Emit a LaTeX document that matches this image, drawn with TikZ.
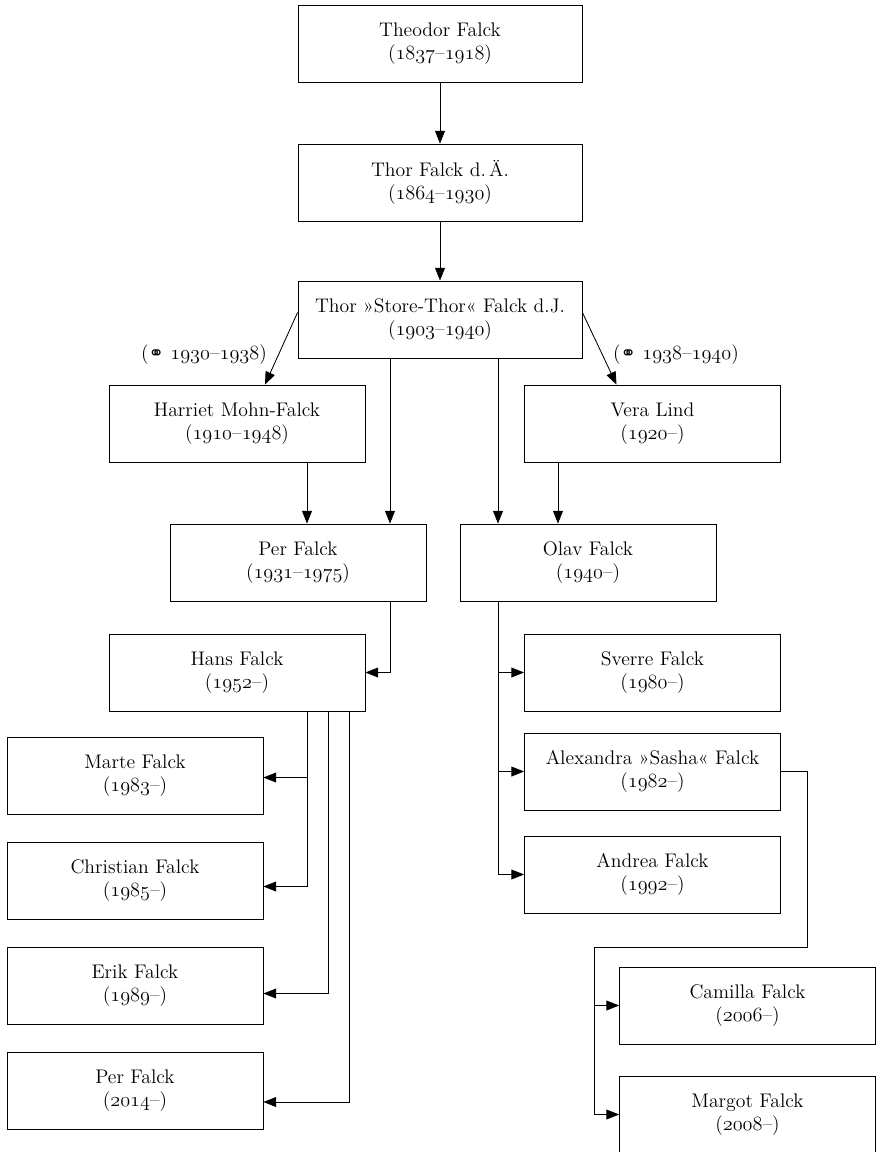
\documentclass[tikz,border=0pt]{standalone}
\usepackage{fontspec}
\newfontfamily\marrfont{DejaVu Sans}
\usetikzlibrary{arrows.meta,calc}
\newcommand{\yr}[1]{{\usefont{OML}{cmm}{m}{it}#1}}
\newcommand{\wed}{{\marrfont\fontsize{13}{14}\selectfont ⚭}}
\tikzset{
	person/.style={draw,line width=0.6pt,minimum width=6.4cm,minimum height=1.925cm,align=center,inner sep=2pt},
	elder/.style={person,minimum width=7.1cm},
	link/.style={line width=0.6pt,-{Triangle[length=9pt,width=7pt]}},
	wire/.style={line width=0.6pt}
}
\begin{document}
\begin{tikzpicture}[x=0.25mm,y=-0.25mm,font=\fontsize{14}{16.4}\selectfont]
		\useasboundingbox (0,0) rectangle (881,1152);
		%elders
		\node[elder] (theodor) at (440,43.5) {Theodor Falck\\(\yr{1837}--\yr{1918})};
		\node[elder] (thorae) at (440,182.5) {Thor Falck d.\,Ä.\\(\yr{1864}--\yr{1930})};
		\node[elder] (storethor) at (440,319.5) {Thor »Store-Thor« Falck d.J.\\(\yr{1903}--\yr{1940})};
		%wives
		\node[person] (harriet) at (237,423.5) {Harriet Mohn-Falck\\(\yr{1910}--\yr{1948})};
		\node[person] (vera) at (652.5,423.5) {Vera Lind\\(\yr{1920}--)};
		\node (wedharriet) at (204,355) {(\wed\ \yr{1930}--\yr{1938})};
		\node (wedvera) at (676,355) {(\wed\ \yr{1938}--\yr{1940})};
		%sons
		\node[person] (per) at (298,562.5) {Per Falck\\(\yr{1931}--\yr{1975})};
		\node[person] (olav) at (588,562.5) {Olav Falck\\(\yr{1940}--)};
		\node[person] (hans) at (237,672.5) {Hans Falck\\(\yr{1952}--)};
		%olav's children
		\node[person] (sverre) at (652.5,672.5) {Sverre Falck\\(\yr{1980}--)};
		\node[person] (sasha) at (652.5,771.5) {Alexandra »Sasha« Falck\\(\yr{1982}--)};
		\node[person] (andrea) at (652.5,874.5) {Andrea Falck\\(\yr{1992}--)};
		%hans' children
		\node[person] (marte) at (135,775.5) {Marte Falck\\(\yr{1983}--)};
		\node[person] (christian) at (135,880.5) {Christian Falck\\(\yr{1985}--)};
		\node[person] (erik) at (135,985.5) {Erik Falck\\(\yr{1989}--)};
		\node[person] (perjr) at (135,1091) {Per Falck\\(\yr{2014}--)};
		%sasha's children
		\node[person] (camilla) at (747.5,1005.5) {Camilla Falck\\(\yr{2006}--)};
		\node[person] (margot) at (747.5,1114.5) {Margot Falck\\(\yr{2008}--)};
		%line positions
		\coordinate (lineharriet) at (307,0);
		\coordinate (lineper) at (390,0);
		\coordinate (lineolav) at (498,0);
		\coordinate (linevera) at (558,0);
		\coordinate (kidone) at (307,0);
		\coordinate (kidtwo) at (328,0);
		\coordinate (kidthree) at (349,0);
		\coordinate (sashabend) at (807,947);
		\coordinate (sashadrop) at (594,947);
		% descent
		\draw[link] (theodor) -- (thorae);
		\draw[link] (thorae) -- (storethor);
		\draw[link] ($(storethor.west)+(0,-7)$) -- ($(harriet.north)+(28,0)$);
		\draw[link] ($(storethor.east)+(0,-7)$) -- ($(vera.north)+(-36,0)$);
		\draw[link] (harriet.south -| lineharriet) -- (per.north -| lineharriet);
		\draw[link] (storethor.south -| lineper) -- (per.north -| lineper);
		\draw[link] (storethor.south -| lineolav) -- (olav.north -| lineolav);
		\draw[link] (vera.south -| linevera) -- (olav.north -| linevera);
		\draw[link] (per.south -| lineper) |- (hans.east);
		%olav
		\draw[link] (olav.south -| lineolav) |- (sverre.west);
		\draw[link] (olav.south -| lineolav) |- (sasha.west);
		\draw[link] (olav.south -| lineolav) |- (andrea.west);
		%hans
		\draw[link] (hans.south -| kidone) |- ($(marte.east)+(0,2)$);
		\draw[link] (hans.south -| kidone) |- ($(christian.east)+(0,6)$);
		\draw[link] (hans.south -| kidtwo) |- ($(erik.east)+(0,8)$);
		\draw[link] (hans.south -| kidthree) |- ($(perjr.east)+(0,11)$);
		%sasha
		\draw[wire] (sasha.east) -| (sashabend) -- (sashadrop);
		\draw[link] (sashadrop) |- (camilla.west);
		\draw[link] (sashadrop) |- (margot.west);
	\end{tikzpicture}
\end{document}
